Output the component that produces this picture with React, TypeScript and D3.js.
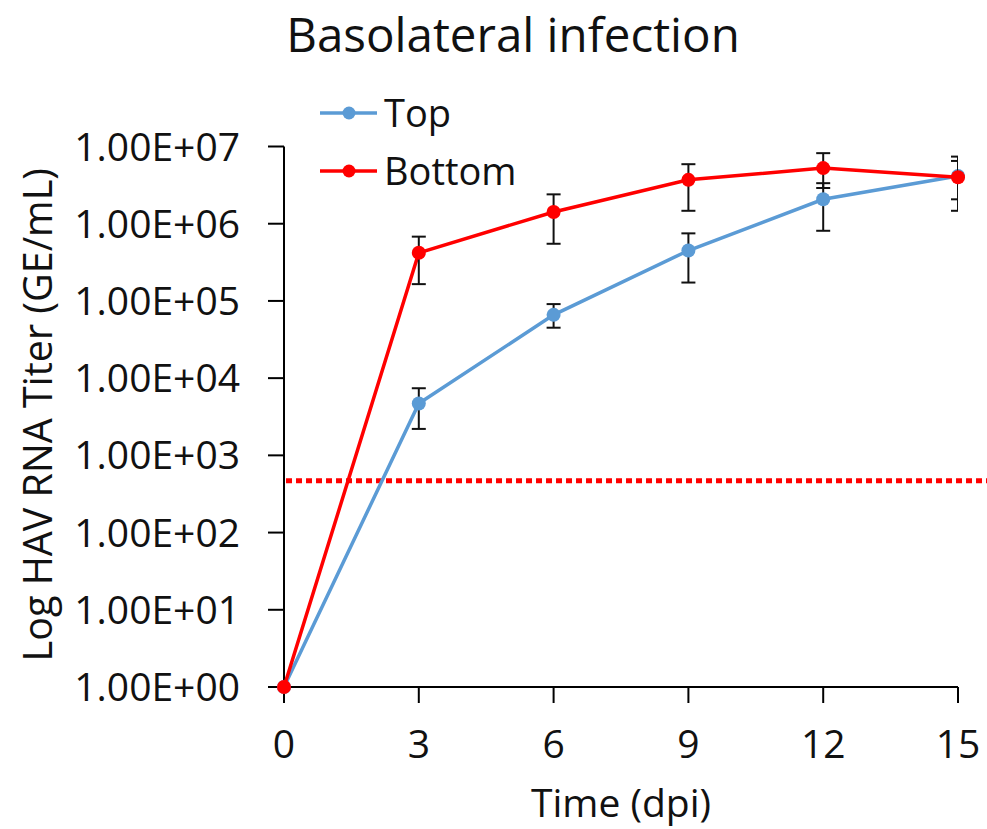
import React from "react";
import * as d3 from "d3";

// Sampling days (days post infection)
const days = [0, 3, 6, 9, 12, 15];

// Apical ("Top") compartment titres, GE/mL, with upper/lower error limits
const topMean = [1, 4.7e3, 6.6e4, 4.5e5, 2.07e6, 4.15e6];
const topHigh = [1, 7.4e3, 9.1e4, 7.5e5, 3.35e6, 6.5e6];
const topLow = [1, 2.2e3, 4.5e4, 1.73e5, 8.1e5, 1.47e6];

// Basolateral ("Bottom") compartment titres, GE/mL, with upper/lower error limits
const bottomMean = [1, 4.2e5, 1.42e6, 3.7e6, 5.25e6, 4.0e6];
const bottomHigh = [1, 6.8e5, 2.4e6, 5.9e6, 8.2e6, 7.4e6];
const bottomLow = [1, 1.65e5, 5.5e5, 1.47e6, 2.9e6, 2.07e6];

// Limit of detection
const detectionLimit = 470;

const xTicks = [0, 3, 6, 9, 12, 15];
const yTicks = [1, 1e1, 1e2, 1e3, 1e4, 1e5, 1e6, 1e7];

const seriesNames = ["Top", "Bottom"];
const seriesColors = ["#5B9BD5", "#FF0000"];

const W = 987;
const H = 829;
const FONT = "'Open Sans', 'DejaVu Sans', sans-serif";

const fmtSci = (v: number) => {
  const exp = Math.round(Math.log10(v));
  return `1.00E+${String(exp).padStart(2, "0")}`;
};

export default function App() {
  const x = d3.scaleLinear().domain([0, 15]).range([284, 958]);
  const y = d3.scaleLog().domain([1, 1e7]).range([687, 146.5]);

  const series = [
    { mean: topMean, high: topHigh, low: topLow },
    { mean: bottomMean, high: bottomHigh, low: bottomLow },
  ];

  const line = d3
    .line<number>()
    .x((_, i) => x(days[i]))
    .y((v) => y(v));

  const [x0, x1] = x.range();
  const [yBottom, yTop] = y.range();
  const capHalf = 7;

  return (
    <svg
      width={W}
      height={H}
      viewBox={`0 0 ${W} ${H}`}
      style={{ position: "absolute", left: 0, top: 0, display: "block", background: "#fff" }}
      fontFamily={FONT}
    >
      <defs>
        <clipPath id="plotClip">
          <rect x={x0 - 20} y={0} width={x1 - x0 + 20} height={H} />
        </clipPath>
      </defs>
      <rect width={W} height={H} fill="#fff" />

      {/* Title */}
      <text x={513} y={52} textAnchor="middle" fontSize={47.5} fill="#111">
        Basolateral infection
      </text>

      {/* Detection limit */}
      <line
        x1={x0 + 2}
        x2={W}
        y1={y(detectionLimit)}
        y2={y(detectionLimit)}
        stroke="#FF0000"
        strokeWidth={5}
        strokeDasharray="6 4"
      />

      {/* Axes */}
      <line x1={x0} x2={x0} y1={yTop} y2={yBottom} stroke="#000" strokeWidth={2} />
      <line x1={x0} x2={x1} y1={yBottom} y2={yBottom} stroke="#000" strokeWidth={2} />
      {yTicks.map((t) => (
        <g key={`y${t}`}>
          <line x1={x0 - 16} x2={x0} y1={y(t)} y2={y(t)} stroke="#000" strokeWidth={2} />
          <text x={x0 - 44} y={y(t)} dy="0.36em" textAnchor="end" fontSize={39} fill="#111">
            {fmtSci(t)}
          </text>
        </g>
      ))}
      {xTicks.map((t) => (
        <g key={`x${t}`}>
          <line x1={x(t)} x2={x(t)} y1={yBottom} y2={yBottom + 16} stroke="#000" strokeWidth={2} />
          <text x={x(t)} y={758} textAnchor="middle" fontSize={39} fill="#111">
            {t}
          </text>
        </g>
      ))}

      {/* Axis titles */}
      <text x={(x0 + x1) / 2} y={817} textAnchor="middle" fontSize={39} fill="#111">
        Time (dpi)
      </text>
      <text
        transform={`translate(52, ${(yTop + yBottom) / 2 - 2}) rotate(-90)`}
        textAnchor="middle"
        fontSize={39.5}
        fill="#111"
      >
        Log HAV RNA Titer (GE/mL)
      </text>

      {/* Series */}
      {series.map((s, si) => (
        <g key={seriesNames[si]}>
          <path d={line(s.mean) ?? ""} fill="none" stroke={seriesColors[si]} strokeWidth={3.5} />
          <g clipPath="url(#plotClip)">
            {days.map((d, i) =>
              s.high[i] === s.low[i] ? null : (
                <g key={d} stroke="#111" strokeWidth={2}>
                  <line x1={x(d)} x2={x(d)} y1={y(s.high[i])} y2={y(s.low[i])} />
                  <line x1={x(d) - capHalf} x2={x(d) + capHalf} y1={y(s.high[i])} y2={y(s.high[i])} />
                  <line x1={x(d) - capHalf} x2={x(d) + capHalf} y1={y(s.low[i])} y2={y(s.low[i])} />
                </g>
              )
            )}
          </g>
          {days.map((d, i) => (
            <circle key={d} cx={x(d)} cy={y(s.mean[i])} r={7} fill={seriesColors[si]} />
          ))}
        </g>
      ))}

      {/* Legend */}
      {seriesNames.map((name, i) => {
        const ly = 113 + i * 58;
        return (
          <g key={name}>
            <line x1={320} x2={377} y1={ly} y2={ly} stroke={seriesColors[i]} strokeWidth={3.5} />
            <circle cx={349} cy={ly} r={6.5} fill={seriesColors[i]} />
            <text x={384} y={ly} dy="0.36em" fontSize={38} fill="#111">
              {name}
            </text>
          </g>
        );
      })}
    </svg>
  );
}
